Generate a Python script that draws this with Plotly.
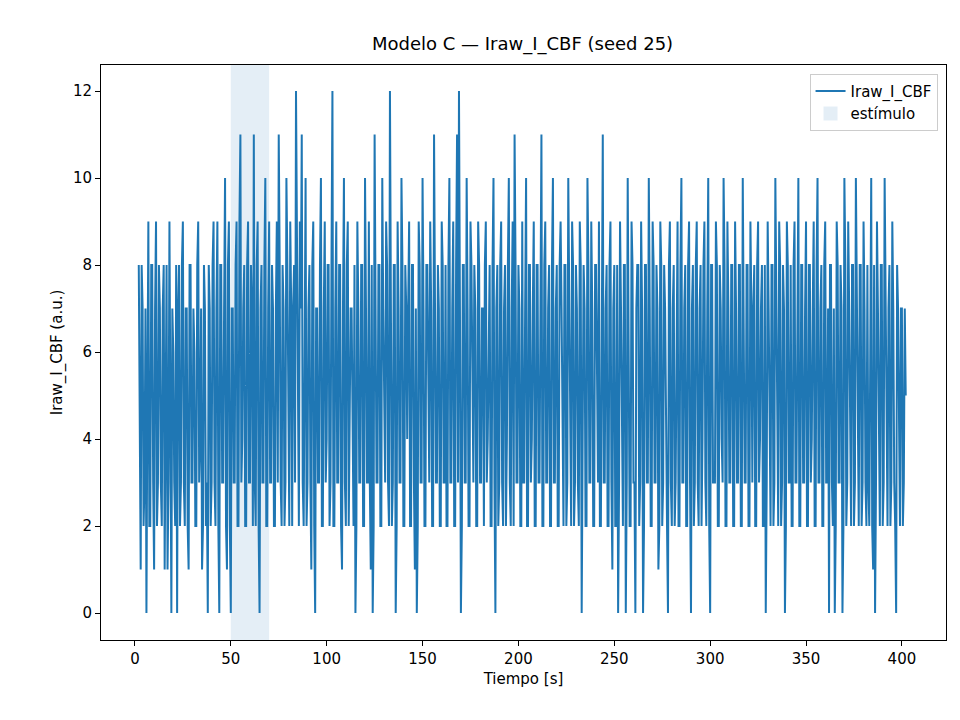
import plotly.graph_objects as go
import numpy as np

# signal values, one sample per second starting at t = 2 s
values = [
    8,1,7,3,0,9,2,8,1,9,3,7,2,8,4,1,9,0,6,2,
    0,8,3,9,2,7,1,8,3,6,2,9,4,1,8,2,0,7,3,9,
    2,9,0,8,3,10,1,9,0,7,3,9,2,11,4,8,2,9,3,7,
    11,2,9,0,8,3,10,2,9,3,7,2,9,11,3,8,2,10,4,9,
    2,8,12,3,9,11,2,10,3,8,1,9,0,7,3,10,2,9,4,8,
    3,12,2,9,3,8,1,10,2,9,4,7,2,0,9,3,8,2,10,3,
    9,1,0,11,3,8,2,10,4,9,3,12,2,8,0,9,3,10,2,8,
    4,9,2,8,1,0,9,3,10,2,8,4,9,2,11,3,8,2,9,3,
    8,2,10,3,9,2,11,12,0,8,3,10,2,9,4,8,2,9,3,7,
    2,9,4,8,2,10,0,8,3,9,2,8,4,10,2,9,11,3,8,2,
    9,3,10,2,8,4,9,2,8,3,11,2,9,3,8,2,10,3,8,2,
    9,4,8,2,10,3,9,2,8,3,9,0,8,2,10,3,9,2,8,4,
    9,2,11,3,8,2,9,1,8,2,0,9,3,8,0,10,2,9,3,0,
    8,2,9,0,8,3,10,2,9,3,8,1,9,2,8,3,0,9,2,8,
    3,9,2,10,3,8,2,9,0,8,3,9,2,8,4,9,2,10,0,8,
    3,9,2,8,4,10,2,9,3,8,2,9,3,8,2,10,3,8,2,9,
    3,8,2,9,4,8,2,0,9,3,8,2,10,3,9,2,8,0,9,3,
    8,2,9,3,10,2,8,3,9,2,8,4,9,2,10,3,8,2,9,3,
    0,8,2,0,9,3,8,0,10,2,9,3,8,2,10,4,8,2,9,3,
    8,2,10,1,0,9,3,8,2,10,3,7,2,9,3,0,7,2,7,3,
    5,
]
# samples in between, at t = 2.5 s, 3.5 s, ...
values_half = [
    3,8,2,7,5,2,8,3,7,2,8,3,7,1,8,3,2,7,3,8,
    7,2,8,3,7,2,8,3,7,2,8,3,7,2,7,3,8,2,8,3,
    7,2,8,3,7,2,8,2,7,3,8,2,9,3,7,2,8,3,8,2,
    3,8,2,7,3,8,2,7,3,8,2,7,3,8,2,7,3,8,2,7,
    7,3,8,2,7,3,8,2,7,3,8,2,7,3,8,2,7,3,8,2,
    8,2,7,3,8,2,7,3,8,2,7,3,8,2,7,3,8,2,7,3,
    3,8,2,7,3,8,2,7,3,8,2,7,3,8,2,7,3,8,2,7,
    7,2,8,3,7,2,8,3,7,2,8,3,7,2,8,3,7,2,8,3,
    2,8,3,7,2,8,3,7,2,8,3,7,2,8,3,7,2,8,3,7,
    8,3,7,2,8,3,7,2,8,3,7,2,8,3,7,2,8,3,7,2,
    3,7,2,8,3,7,2,8,3,7,2,8,3,7,2,8,3,7,2,8,
    7,2,8,3,7,2,8,3,7,2,8,3,7,2,8,3,7,2,8,3,
    2,8,3,7,2,8,3,7,2,8,3,7,2,8,3,7,2,8,3,7,
    8,3,7,2,8,3,7,2,8,3,7,2,8,3,7,2,8,3,7,2,
    7,2,8,3,7,2,8,3,7,2,8,3,7,2,8,3,7,2,8,3,
    3,8,2,7,3,8,2,7,3,8,2,7,3,8,2,7,3,8,2,7,
    7,2,8,3,7,2,8,3,7,2,8,3,7,2,8,3,7,2,8,3,
    2,8,3,7,2,8,3,7,2,8,3,7,2,8,3,7,2,8,3,7,
    8,3,7,2,8,3,7,2,8,3,7,2,8,3,7,2,8,3,7,2,
    3,7,2,8,3,7,2,8,3,7,2,8,3,7,2,8,3,7,2,7,
]
t_start = 2
stim = [50, 70]

# interleave the whole-second and half-second samples
t_full = t_start + np.arange(len(values))
t_half = t_start + 0.5 + np.arange(len(values_half))
times = np.concatenate([t_full, t_half])
sig = np.concatenate([values, values_half])
order = np.argsort(times, kind="stable")
times, sig = times[order], sig[order]

fig = go.Figure()

fig.add_vrect(x0=stim[0], x1=stim[1], fillcolor="#1f77b4", opacity=0.12,
              line_width=0, layer="below")
fig.add_trace(go.Scatter(x=times, y=sig, mode="lines", name="Iraw_I_CBF",
                         line=dict(color="#1f77b4", width=2)))
fig.add_trace(go.Scatter(x=[None], y=[None], mode="markers", name="estímulo",
                         marker=dict(symbol="square", size=14, color="rgba(31,119,180,0.12)")))

axis = dict(showgrid=False, zeroline=False, showline=True, mirror=True,
            linecolor="black", linewidth=1, ticks="outside", ticklen=5,
            tickcolor="black", tickfont=dict(size=15, color="black"), automargin=False)
fig.update_layout(
    width=960, height=720,
    margin=dict(l=93, r=22, t=57, b=88),
    paper_bgcolor="white", plot_bgcolor="white",
    font=dict(family="DejaVu Sans", color="black"),
    title=dict(text="Modelo C — Iraw_I_CBF (seed 25)", x=0.536, xanchor="center",
               yref="container", y=0.95, yanchor="middle", font=dict(size=18)),
    xaxis=dict(axis, range=[-17.7, 423], tickvals=list(range(0, 401, 50)),
               title=dict(text="Tiempo [s]", font=dict(size=15), standoff=6)),
    yaxis=dict(axis, range=[-0.62, 12.6], tickvals=list(range(0, 13, 2)),
               title=dict(text="Iraw_I_CBF (a.u.)", font=dict(size=15), standoff=6)),
    legend=dict(x=0.99, y=0.985, xanchor="right", yanchor="top",
                bordercolor="#cccccc", borderwidth=1, bgcolor="rgba(255,255,255,0.8)",
                font=dict(size=15)),
)

fig.write_html("out.html")
